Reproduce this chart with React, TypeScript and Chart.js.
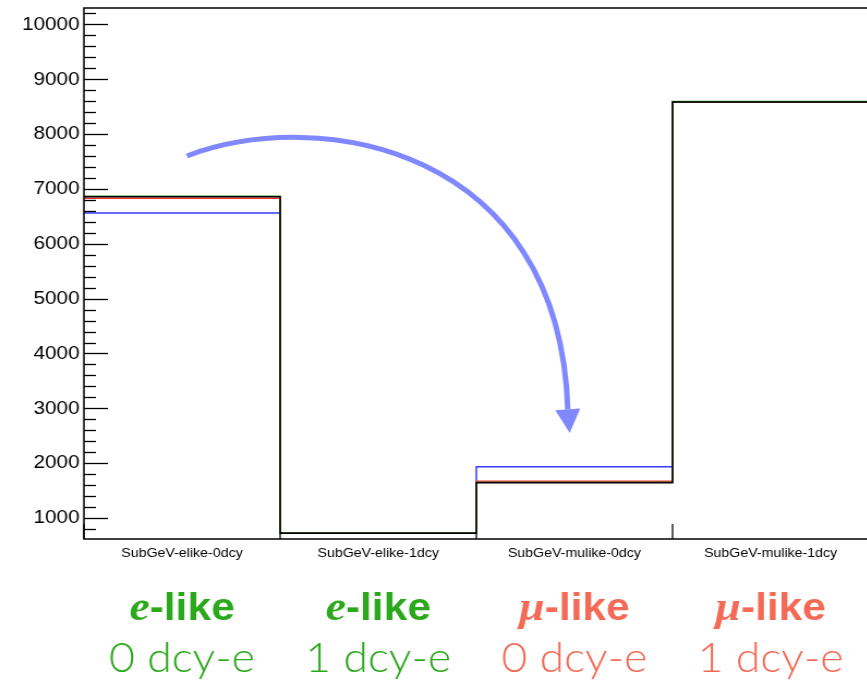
import React, { useEffect, useRef } from 'react';
import Chart from 'chart.js/auto';

// Event counts per sample (four SubGeV samples), one array per histogram.
const binLabels = ['SubGeV-elike-0dcy', 'SubGeV-elike-1dcy', 'SubGeV-mulike-0dcy', 'SubGeV-mulike-1dcy'];
const blueCounts = [6560, 732, 1935, 8585];
const redCounts = [6832, 728, 1668, 8585];
const greenCounts = [6866, 728, 1652, 8593];
const blackCounts = [6856, 720, 1645, 8586];

// Vertical axis range and labelled ticks.
const yMin = 617;
const yMax = 10300;
const yMajorTicks = [1000, 2000, 3000, 4000, 5000, 6000, 7000, 8000, 9000, 10000];
const yMinorDivisions = 5;

// Sample names written under the axis, per bin.
const sampleSymbols = ['e', 'e', 'μ', 'μ'];
const sampleKinds = ['-like', '-like', '-like', '-like'];
const decayLabels = ['0 dcy-e', '1 dcy-e', '0 dcy-e', '1 dcy-e'];
const sampleColors = ['#2ca81c', '#2ca81c', '#f36b57', '#f36b57'];

// Migration arrow, given in (bin, count) coordinates: start, two controls, end, tip.
const arrowPath = [
  { x: 0.525, y: 7602 },
  { x: 1.203, y: 8520 },
  { x: 2.425, y: 7760 },
  { x: 2.466, y: 2980 },
  { x: 2.476, y: 2550 },
];

const STRETCH = 1.09;
const CANVAS_W = 810;
const CANVAS_H = 680;

const stepPoints = (vals: number[]) => [
  ...vals.map((v, i) => ({ x: i, y: v })),
  { x: vals.length, y: vals[vals.length - 1] },
];

const histo = (vals: number[], color: string) => ({
  data: stepPoints(vals),
  borderColor: color,
  borderWidth: 1.5,
  pointRadius: 0,
  stepped: 'before' as const,
  fill: false,
  tension: 0,
});

const rootFrame = {
  id: 'rootFrame',
  beforeDatasetsDraw(chart: any) {
    const { ctx, chartArea: a, scales } = chart;
    const xs = scales.x;
    ctx.save();
    ctx.strokeStyle = '#000';
    ctx.lineWidth = 1.3;
    for (let i = 0; i <= binLabels.length; i++) {
      const px = xs.getPixelForValue(i);
      ctx.beginPath();
      ctx.moveTo(px, a.bottom);
      ctx.lineTo(px, a.bottom - 15);
      ctx.stroke();
    }
    ctx.restore();
  },
  afterDatasetsDraw(chart: any) {
    const { ctx, chartArea: a, scales } = chart;
    const xs = scales.x;
    const ys = scales.y;
    ctx.save();

    // frame
    ctx.strokeStyle = '#000';
    ctx.lineWidth = 1.5;
    ctx.strokeRect(a.left, a.top, a.right - a.left, a.bottom - a.top);

    // y ticks, drawn inward
    ctx.lineWidth = 1.3;
    const step = (yMajorTicks[1] - yMajorTicks[0]) / yMinorDivisions;
    const first = yMajorTicks[0] - yMinorDivisions * step;
    const last = yMajorTicks[yMajorTicks.length - 1] + yMinorDivisions * step;
    for (let v = first; v <= last + 1e-6; v += step) {
      if (v < yMin || v > yMax) continue;
      const isMajor = yMajorTicks.some((m) => Math.abs(m - v) < 1e-6);
      const py = Math.round(ys.getPixelForValue(v)) + 0.5;
      ctx.beginPath();
      ctx.moveTo(a.left, py);
      ctx.lineTo(a.left + (isMajor ? 22 : 11), py);
      ctx.stroke();
    }

    // bin labels
    ctx.fillStyle = '#000';
    ctx.font = '13px "Liberation Sans", Arial, sans-serif';
    ctx.textAlign = 'center';
    ctx.textBaseline = 'alphabetic';
    binLabels.forEach((lab, i) => {
      ctx.fillText(lab, xs.getPixelForValue(i + 0.5), a.bottom + 18);
    });

    // sample names
    binLabels.forEach((_, i) => {
      const cx = xs.getPixelForValue(i + 0.5);
      const symFont = 'italic bold 42px "Liberation Serif", serif';
      const kindFont = 'bold 39px "Liberation Sans", Arial, sans-serif';
      ctx.fillStyle = sampleColors[i];
      ctx.textAlign = 'left';
      ctx.font = symFont;
      const w1 = ctx.measureText(sampleSymbols[i]).width;
      ctx.font = kindFont;
      const w2 = ctx.measureText(sampleKinds[i]).width;
      const x0 = cx - (w1 + w2) / 2;
      ctx.font = symFont;
      ctx.fillText(sampleSymbols[i], x0, a.bottom + 81);
      ctx.font = kindFont;
      ctx.fillText(sampleKinds[i], x0 + w1, a.bottom + 81);

      ctx.textAlign = 'center';
      ctx.font = '300 41px Lato, Roboto, "Liberation Sans", sans-serif';
      ctx.fillText(decayLabels[i], cx, a.bottom + 133);
    });

    // migration arrow
    const p = arrowPath.map((q) => ({ x: xs.getPixelForValue(q.x), y: ys.getPixelForValue(q.y) }));
    const col = 'rgb(128,136,255)';
    ctx.strokeStyle = col;
    ctx.fillStyle = col;
    ctx.lineWidth = 5;
    ctx.lineCap = 'butt';
    ctx.beginPath();
    ctx.moveTo(p[0].x, p[0].y);
    ctx.bezierCurveTo(p[1].x, p[1].y, p[2].x, p[2].y, p[3].x, p[3].y);
    ctx.stroke();
    const dx = p[4].x - p[3].x;
    const dy = p[4].y - p[3].y;
    const len = Math.hypot(dx, dy) || 1;
    const nx = -dy / len;
    const ny = dx / len;
    const hw = 11.5;
    ctx.beginPath();
    ctx.moveTo(p[4].x, p[4].y);
    ctx.lineTo(p[3].x + nx * hw, p[3].y + ny * hw);
    ctx.lineTo(p[3].x - nx * hw, p[3].y - ny * hw);
    ctx.closePath();
    ctx.fill();

    ctx.restore();
  },
};

export default function App() {
  const canvasRef = useRef<HTMLCanvasElement | null>(null);

  useEffect(() => {
    if (!canvasRef.current) return;
    // Chart.js paints the first dataset last, so black ends up on top.
    const chart = new Chart(canvasRef.current, {
      type: 'line',
      data: {
        datasets: [
          histo(blackCounts, '#000000'),
          histo(greenCounts, '#2e8b2e'),
          histo(redCounts, '#ff3030'),
          histo(blueCounts, '#3838ff'),
        ],
      },
      options: {
        animation: false,
        responsive: false,
        maintainAspectRatio: false,
        layout: { autoPadding: false, padding: { top: 8, right: 13, bottom: 141, left: 0 } },
        plugins: { legend: { display: false }, tooltip: { enabled: false } },
        scales: {
          x: { type: 'linear', min: 0, max: binLabels.length, display: false },
          y: {
            type: 'linear',
            min: yMin,
            max: yMax,
            grid: { display: false, drawTicks: false },
            border: { display: false },
            ticks: {
              color: '#000',
              padding: 4,
              font: { family: '"Liberation Sans", Arial, sans-serif', size: 19 },
              callback: (v: any) => String(v),
            },
            afterBuildTicks: (s: any) => {
              s.ticks = yMajorTicks.map((v) => ({ value: v }));
            },
            afterFit: (s: any) => {
              s.width = 77;
              s.paddingTop = 0;
              s.paddingBottom = 0;
            },
          },
        },
      },
      plugins: [rootFrame],
    });
    return () => chart.destroy();
  }, []);

  return (
    <div
      style={{
        position: 'fixed',
        left: 0,
        top: 0,
        width: 867,
        height: 680,
        overflow: 'hidden',
        background: '#fff',
      }}
    >
      <canvas
        ref={canvasRef}
        width={CANVAS_W}
        height={CANVAS_H}
        style={{ display: 'block', transform: `scaleX(${STRETCH})`, transformOrigin: '0 0' }}
      />
    </div>
  );
}
